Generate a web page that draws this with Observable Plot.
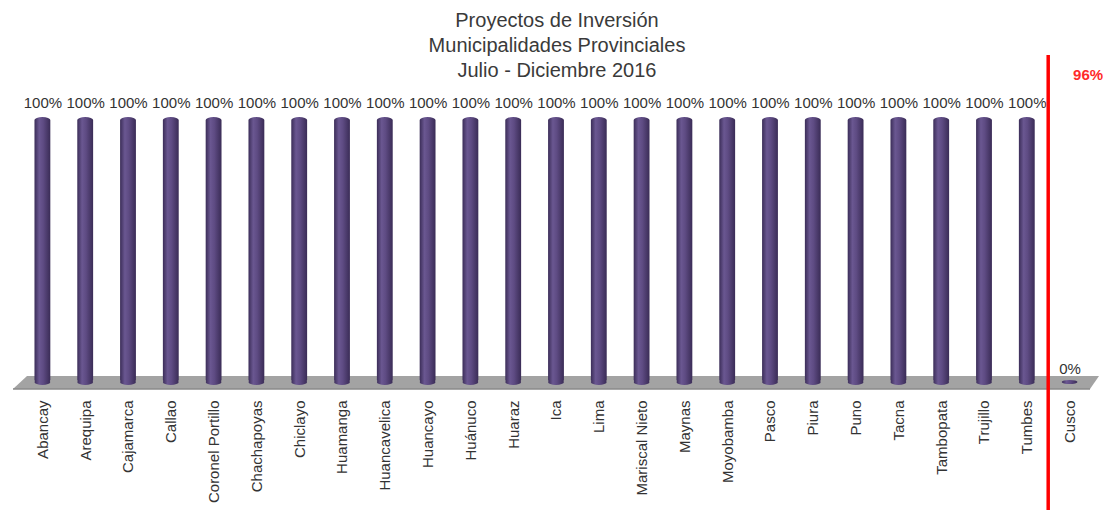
<!DOCTYPE html>
<html>
<head>
<meta charset="utf-8">
<script src="https://cdn.jsdelivr.net/npm/d3@7"></script>
<script src="https://cdn.jsdelivr.net/npm/@observablehq/plot@0.6"></script>
<style>
  body { margin: 0; background: #fff; }
  #wrap { position: relative; width: 1105px; height: 510px; font-family: "Liberation Sans", Arial, sans-serif; }
  #title { position: absolute; left: 0; top: 8px; width: 1114px; text-align: center; font-size: 20px; line-height: 25px; color: #3a3a3a; pointer-events: none; }
</style>
</head>
<body>
<div id="wrap">
  <div id="title"></div>
</div>
<script>
const titleLines = ["Proyectos de Inversión", "Municipalidades Provinciales", "Julio - Diciembre 2016"];
const cities = ["Abancay","Arequipa","Cajamarca","Callao","Coronel Portillo","Chachapoyas","Chiclayo","Huamanga","Huancavelica","Huancayo","Huánuco","Huaraz","Ica","Lima","Mariscal Nieto","Maynas","Moyobamba","Pasco","Piura","Puno","Tacna","Tambopata","Trujillo","Tumbes","Cusco"];
const values = [100,100,100,100,100,100,100,100,100,100,100,100,100,100,100,100,100,100,100,100,100,100,100,100,0];
const totalLabel = "96%";
const separatorBetween = ["Tumbes", "Cusco"];

document.getElementById("title").innerHTML = titleLines.map(t => `<div>${t}</div>`).join("");

const data = cities.map((c, i) => ({city: c, value: values[i]}));
const svgNS = "http://www.w3.org/2000/svg";

function defsMark() {
  const g = document.createElementNS(svgNS, "g");
  g.innerHTML = `<defs>
    <linearGradient id="cyl" x1="0" x2="1" y1="0" y2="0">
      <stop offset="0" stop-color="#3b2d58"/>
      <stop offset="0.3" stop-color="#6a5791"/>
      <stop offset="0.55" stop-color="#5e4b83"/>
      <stop offset="1" stop-color="#3a2c56"/>
    </linearGradient>
  </defs>`;
  return g;
}

function floorMark(index, scales, values, dims) {
  const g = document.createElementNS(svgNS, "g");
  const y0 = scales.y(0);
  const l = dims.marginLeft, r = dims.width - dims.marginRight;
  const pts = [[l - 8, y0 + 6], [r - 1, y0 + 6], [r + 8, y0 - 7], [l + 6, y0 - 7]];
  const p = document.createElementNS(svgNS, "polygon");
  p.setAttribute("points", pts.map(d => d.join(",")).join(" "));
  p.setAttribute("fill", "#a3a3a3");
  g.appendChild(p);
  const e = document.createElementNS(svgNS, "line");
  e.setAttribute("x1", l - 8); e.setAttribute("x2", r - 1);
  e.setAttribute("y1", y0 + 6); e.setAttribute("y2", y0 + 6);
  e.setAttribute("stroke", "#8a8a8a"); e.setAttribute("stroke-width", 1.5);
  g.appendChild(e);
  return g;
}

const chart = Plot.plot({
  width: 1105,
  height: 510,
  marginTop: 117,
  marginBottom: 127,
  marginLeft: 21,
  marginRight: 14,
  style: {fontFamily: "'Liberation Sans', Arial, sans-serif", background: "transparent", overflow: "visible"},
  x: {type: "band", domain: cities, paddingInner: 0.63, paddingOuter: 0.315, round: false, label: null},
  y: {domain: [0, 100], axis: null},
  marks: [
    defsMark,
    floorMark,
    Plot.barY(data, {x: "city", y1: 0, y2: "value", fill: "url(#cyl)", rx: 8, ry: 3}),
    Plot.text(data, {x: "city", y: "value", text: d => `${d.value}%`, dy: -14, fontSize: 15, fill: "#333"}),
    Plot.axisX({tickRotate: -90, tickSize: 0, tickPadding: 17, fontSize: 15, fill: "#333", label: null}),
    Plot.text([totalLabel], {x: () => "Cusco", y: () => 100, text: d => d, dx: 18, dy: -42, fontSize: 15, fontWeight: "bold", fill: "#ff2a2a"})
  ]
});

// Decorations positioned from the chart's own scales
const sx = chart.scale("x"), sy = chart.scale("y");
const bw = sx.bandwidth;
const y0 = sy.apply(0);
const deco = document.createElementNS(svgNS, "g");
for (const d of data) {
  const el = document.createElementNS(svgNS, "ellipse");
  el.setAttribute("cx", sx.apply(d.city) + bw / 2);
  el.setAttribute("cy", y0 - 1);
  el.setAttribute("rx", bw / 2);
  el.setAttribute("ry", d.value === 0 ? 2 : 3);
  el.setAttribute("fill", "url(#cyl)");
  deco.appendChild(el);
}
const xm = (sx.apply(separatorBetween[0]) + sx.apply(separatorBetween[1])) / 2 + bw / 2;
const rule = document.createElementNS(svgNS, "line");
rule.setAttribute("x1", xm); rule.setAttribute("x2", xm);
rule.setAttribute("y1", 55); rule.setAttribute("y2", 510);
rule.setAttribute("stroke", "#ff0000"); rule.setAttribute("stroke-width", 3.5);
deco.appendChild(rule);
chart.appendChild(deco);

document.getElementById("wrap").appendChild(chart);
</script>
</body>
</html>
